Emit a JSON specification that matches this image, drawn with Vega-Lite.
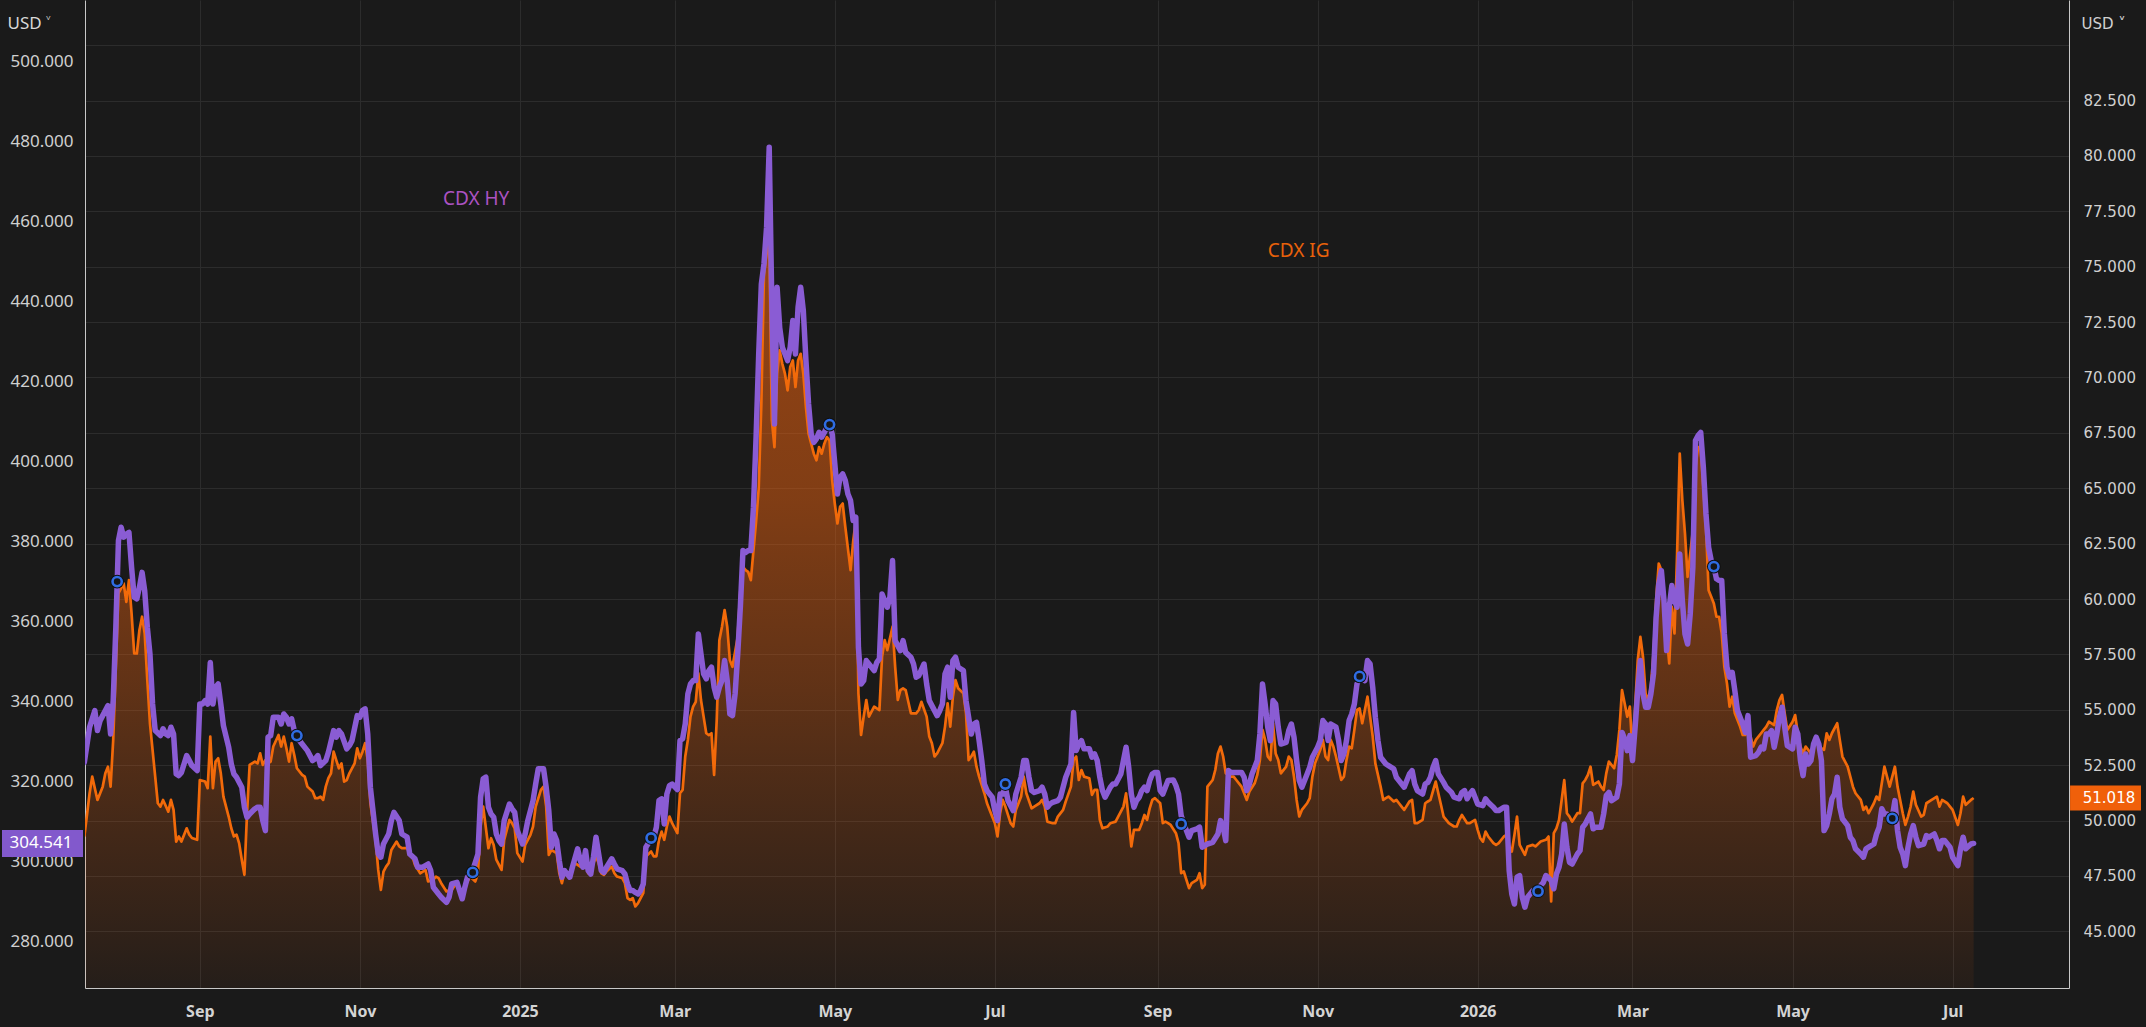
{
  "$schema": "https://vega.github.io/schema/vega-lite/v6.json",
  "description": "CDX HY (left scale) and CDX IG (right scale) spreads, dark theme",
  "width": 1984,
  "height": 988,
  "autosize": {"type": "none"},
  "padding": {"left": 85, "top": 0, "right": 77, "bottom": 39},
  "background": "#1a1a1a",
  "config": {
    "view": {"stroke": null},
    "axis": {"ticks": false, "domainColor": "#c8c8c8", "domainWidth": 1, "labelOverlap": false, "labelFlush": false}
  },
  "datasets": {
    "hy": [
      {"date":"2024/07/19","value":324.8},{"date":"2024/07/21","value":333.6},{"date":"2024/07/23","value":337.75},{"date":"2024/07/24","value":332.75},{"date":"2024/07/25","value":335.25},{"date":"2024/07/27","value":337.75},{"date":"2024/07/28","value":339},{"date":"2024/07/29","value":331.9},{"date":"2024/07/30","value":340.25},{"date":"2024/07/31","value":358.6},
      {"date":"2024/08/01","value":380.25},{"date":"2024/08/02","value":383.6},{"date":"2024/08/03","value":381.1},{"date":"2024/08/04","value":381.9},{"date":"2024/08/05","value":382.3},{"date":"2024/08/06","value":373.6},{"date":"2024/08/07","value":366.1},{"date":"2024/08/08","value":365.7},{"date":"2024/08/09","value":368.6},{"date":"2024/08/10","value":372.3},{"date":"2024/08/11","value":367.75},{"date":"2024/08/12","value":358.6},{"date":"2024/08/13","value":351.9},{"date":"2024/08/14","value":339.4},{"date":"2024/08/15","value":332.75},{"date":"2024/08/17","value":331.5},{"date":"2024/08/18","value":333.2},{"date":"2024/08/19","value":331.9},{"date":"2024/08/20","value":331.5},{"date":"2024/08/21","value":333.6},{"date":"2024/08/22","value":331.9},{"date":"2024/08/23","value":321.9},{"date":"2024/08/24","value":321.5},{"date":"2024/08/25","value":322.3},{"date":"2024/08/27","value":326.5},{"date":"2024/08/28","value":325.25},{"date":"2024/08/29","value":324},{"date":"2024/08/31","value":322.75},
      {"date":"2024/09/01","value":339.4},{"date":"2024/09/02","value":339.4},{"date":"2024/09/03","value":340.25},{"date":"2024/09/04","value":339.4},{"date":"2024/09/05","value":349.8},{"date":"2024/09/06","value":339.4},{"date":"2024/09/07","value":343.6},{"date":"2024/09/08","value":344.4},{"date":"2024/09/09","value":339.4},{"date":"2024/09/10","value":334},{"date":"2024/09/12","value":328.6},{"date":"2024/09/13","value":324.4},{"date":"2024/09/14","value":321.9},{"date":"2024/09/15","value":321.1},{"date":"2024/09/17","value":318.6},{"date":"2024/09/18","value":313.6},{"date":"2024/09/19","value":311.1},{"date":"2024/09/20","value":311.9},{"date":"2024/09/22","value":313.2},{"date":"2024/09/23","value":313.6},{"date":"2024/09/24","value":313.6},{"date":"2024/09/25","value":310.25},{"date":"2024/09/26","value":307.75},{"date":"2024/09/27","value":331.1},{"date":"2024/09/28","value":331.5},{"date":"2024/09/29","value":336.1},
      {"date":"2024/10/01","value":336.1},{"date":"2024/10/02","value":334.4},{"date":"2024/10/03","value":336.9},{"date":"2024/10/04","value":336.1},{"date":"2024/10/05","value":334.4},{"date":"2024/10/06","value":335.7},{"date":"2024/10/07","value":332.75},{"date":"2024/10/08","value":331.1},{"date":"2024/10/10","value":329.4},{"date":"2024/10/12","value":327.75},{"date":"2024/10/14","value":325.25},{"date":"2024/10/15","value":325.7},{"date":"2024/10/16","value":326.5},{"date":"2024/10/17","value":324},{"date":"2024/10/19","value":325.25},{"date":"2024/10/20","value":327.3},{"date":"2024/10/22","value":332.75},{"date":"2024/10/23","value":331.1},{"date":"2024/10/24","value":332.75},{"date":"2024/10/25","value":331.9},{"date":"2024/10/27","value":328.2},{"date":"2024/10/28","value":329},{"date":"2024/10/29","value":330.25},{"date":"2024/10/31","value":336.5},
      {"date":"2024/11/01","value":336.1},{"date":"2024/11/02","value":337.75},{"date":"2024/11/03","value":338.2},{"date":"2024/11/04","value":331.9},{"date":"2024/11/05","value":318.6},{"date":"2024/11/07","value":306.9},{"date":"2024/11/08","value":301.9},{"date":"2024/11/09","value":301.1},{"date":"2024/11/10","value":304.4},{"date":"2024/11/12","value":306.9},{"date":"2024/11/13","value":310.25},{"date":"2024/11/14","value":312.3},{"date":"2024/11/16","value":310.25},{"date":"2024/11/17","value":306.9},{"date":"2024/11/19","value":306.1},{"date":"2024/11/20","value":301.9},{"date":"2024/11/22","value":300.7},{"date":"2024/11/23","value":298.6},{"date":"2024/11/25","value":298.6},{"date":"2024/11/27","value":299.4},{"date":"2024/11/28","value":297.75},{"date":"2024/11/29","value":293.6},
      {"date":"2024/12/01","value":291.9},{"date":"2024/12/02","value":291.1},{"date":"2024/12/04","value":289.8},{"date":"2024/12/05","value":291.1},{"date":"2024/12/06","value":294.4},{"date":"2024/12/08","value":294.8},{"date":"2024/12/09","value":292.75},{"date":"2024/12/10","value":290.7},{"date":"2024/12/11","value":293.6},{"date":"2024/12/12","value":296.1},{"date":"2024/12/14","value":297.75},{"date":"2024/12/16","value":301.9},{"date":"2024/12/17","value":316.1},{"date":"2024/12/18","value":320.7},{"date":"2024/12/19","value":321.1},{"date":"2024/12/20","value":313.6},{"date":"2024/12/21","value":311.9},{"date":"2024/12/22","value":311.1},{"date":"2024/12/23","value":306.9},{"date":"2024/12/24","value":305.25},{"date":"2024/12/25","value":304.4},{"date":"2024/12/26","value":310.25},{"date":"2024/12/28","value":314.4},{"date":"2024/12/29","value":313.2},{"date":"2024/12/30","value":312.3},{"date":"2024/12/31","value":307.75},
      {"date":"2025/01/02","value":304.4},{"date":"2025/01/03","value":306.9},{"date":"2025/01/04","value":310.25},{"date":"2025/01/05","value":312.75},{"date":"2025/01/06","value":315.25},{"date":"2025/01/07","value":319.4},{"date":"2025/01/08","value":323.2},{"date":"2025/01/10","value":323.2},{"date":"2025/01/11","value":318.6},{"date":"2025/01/12","value":312.75},{"date":"2025/01/13","value":303.6},{"date":"2025/01/14","value":306.9},{"date":"2025/01/15","value":305.25},{"date":"2025/01/16","value":300.25},{"date":"2025/01/17","value":296.1},{"date":"2025/01/18","value":297.75},{"date":"2025/01/19","value":296.9},{"date":"2025/01/20","value":296.1},{"date":"2025/01/21","value":298.6},{"date":"2025/01/23","value":303.2},{"date":"2025/01/24","value":300.25},{"date":"2025/01/25","value":298.6},{"date":"2025/01/26","value":302.75},{"date":"2025/01/27","value":297.75},{"date":"2025/01/28","value":296.9},{"date":"2025/01/29","value":301.1},{"date":"2025/01/30","value":306.1},{"date":"2025/01/31","value":301.9},
      {"date":"2025/02/01","value":297.75},{"date":"2025/02/02","value":297.3},{"date":"2025/02/03","value":298.6},{"date":"2025/02/05","value":300.7},{"date":"2025/02/06","value":299.4},{"date":"2025/02/07","value":298.2},{"date":"2025/02/09","value":297.75},{"date":"2025/02/10","value":296.9},{"date":"2025/02/11","value":294.4},{"date":"2025/02/12","value":292.75},{"date":"2025/02/13","value":292.75},{"date":"2025/02/14","value":292.3},{"date":"2025/02/15","value":291.9},{"date":"2025/02/16","value":292.75},{"date":"2025/02/17","value":294.4},{"date":"2025/02/18","value":303.6},{"date":"2025/02/20","value":305.7},{"date":"2025/02/21","value":306.1},{"date":"2025/02/22","value":308.6},{"date":"2025/02/23","value":315.25},{"date":"2025/02/24","value":315.7},{"date":"2025/02/25","value":309.4},{"date":"2025/02/26","value":316.9},{"date":"2025/02/27","value":319},{"date":"2025/02/28","value":319.4},
      {"date":"2025/03/02","value":318},{"date":"2025/03/03","value":330.25},{"date":"2025/03/04","value":330.7},{"date":"2025/03/05","value":334.4},{"date":"2025/03/06","value":341.9},{"date":"2025/03/07","value":344.4},{"date":"2025/03/08","value":345.25},{"date":"2025/03/09","value":345.25},{"date":"2025/03/10","value":356.9},{"date":"2025/03/11","value":351.9},{"date":"2025/03/12","value":346.9},{"date":"2025/03/13","value":345.7},{"date":"2025/03/14","value":347.75},{"date":"2025/03/15","value":348.6},{"date":"2025/03/16","value":343.6},{"date":"2025/03/17","value":341.1},{"date":"2025/03/18","value":343.6},{"date":"2025/03/19","value":345.25},{"date":"2025/03/20","value":350.25},{"date":"2025/03/21","value":345.25},{"date":"2025/03/22","value":336.9},{"date":"2025/03/23","value":336.5},{"date":"2025/03/24","value":341.9},{"date":"2025/03/25","value":351.9},{"date":"2025/03/26","value":363.6},{"date":"2025/03/27","value":377.75},{"date":"2025/03/28","value":377.3},{"date":"2025/03/29","value":377.75},{"date":"2025/03/30","value":377.75},{"date":"2025/03/31","value":388.6},
      {"date":"2025/04/01","value":406.1},{"date":"2025/04/02","value":426.9},{"date":"2025/04/03","value":444.4},{"date":"2025/04/04","value":449.4},{"date":"2025/04/05","value":458.6},{"date":"2025/04/06","value":478.6},{"date":"2025/04/07","value":439.4},{"date":"2025/04/08","value":409.4},{"date":"2025/04/09","value":443.6},{"date":"2025/04/10","value":433.5},{"date":"2025/04/11","value":428.6},{"date":"2025/04/13","value":425.25},{"date":"2025/04/14","value":428.6},{"date":"2025/04/15","value":435.25},{"date":"2025/04/16","value":426.9},{"date":"2025/04/17","value":438.6},{"date":"2025/04/18","value":443.6},{"date":"2025/04/19","value":437.75},{"date":"2025/04/20","value":425.25},{"date":"2025/04/21","value":414.4},{"date":"2025/04/22","value":406.9},{"date":"2025/04/23","value":404.8},{"date":"2025/04/24","value":405.7},{"date":"2025/04/25","value":407.3},{"date":"2025/04/26","value":406.1},{"date":"2025/04/27","value":407.3},{"date":"2025/04/28","value":408.6},{"date":"2025/04/29","value":409.25},{"date":"2025/04/30","value":406.9},
      {"date":"2025/05/01","value":399.4},{"date":"2025/05/02","value":391.9},{"date":"2025/05/03","value":396.1},{"date":"2025/05/04","value":396.9},{"date":"2025/05/05","value":395.25},{"date":"2025/05/06","value":391.9},{"date":"2025/05/07","value":390.25},{"date":"2025/05/08","value":385.25},{"date":"2025/05/09","value":386.1},{"date":"2025/05/10","value":353.6},{"date":"2025/05/11","value":344.4},{"date":"2025/05/12","value":345.25},{"date":"2025/05/13","value":350.25},{"date":"2025/05/14","value":349.4},{"date":"2025/05/16","value":347.75},{"date":"2025/05/17","value":349.8},{"date":"2025/05/18","value":350.7},{"date":"2025/05/19","value":366.9},{"date":"2025/05/21","value":363.6},{"date":"2025/05/22","value":366.1},{"date":"2025/05/23","value":375.25},{"date":"2025/05/24","value":355.25},{"date":"2025/05/26","value":352.75},{"date":"2025/05/27","value":355.25},{"date":"2025/05/28","value":352.3},{"date":"2025/05/30","value":351.1},{"date":"2025/05/31","value":349.4},
      {"date":"2025/06/01","value":346.1},{"date":"2025/06/02","value":346.5},{"date":"2025/06/04","value":349.4},{"date":"2025/06/05","value":344.4},{"date":"2025/06/06","value":340.25},{"date":"2025/06/08","value":337.75},{"date":"2025/06/09","value":336.5},{"date":"2025/06/10","value":337.75},{"date":"2025/06/11","value":339.4},{"date":"2025/06/12","value":346.9},{"date":"2025/06/13","value":348.6},{"date":"2025/06/14","value":341.1},{"date":"2025/06/15","value":350.25},{"date":"2025/06/16","value":351.1},{"date":"2025/06/17","value":348.6},{"date":"2025/06/19","value":347.75},{"date":"2025/06/20","value":340.25},{"date":"2025/06/22","value":331.9},{"date":"2025/06/23","value":334.4},{"date":"2025/06/24","value":334.8},{"date":"2025/06/25","value":330.25},{"date":"2025/06/26","value":325.25},{"date":"2025/06/27","value":319.4},{"date":"2025/06/28","value":317.75},{"date":"2025/06/30","value":316.1},
      {"date":"2025/07/01","value":312.75},{"date":"2025/07/02","value":310.25},{"date":"2025/07/03","value":316.9},{"date":"2025/07/04","value":316.9},{"date":"2025/07/05","value":318.6},{"date":"2025/07/06","value":315.25},{"date":"2025/07/08","value":312.75},{"date":"2025/07/09","value":316.9},{"date":"2025/07/11","value":321.1},{"date":"2025/07/12","value":325.25},{"date":"2025/07/13","value":325.25},{"date":"2025/07/14","value":321.1},{"date":"2025/07/15","value":317.75},{"date":"2025/07/16","value":317.3},{"date":"2025/07/18","value":317.75},{"date":"2025/07/19","value":318.6},{"date":"2025/07/20","value":316.9},{"date":"2025/07/21","value":313.6},{"date":"2025/07/22","value":314.4},{"date":"2025/07/23","value":314.8},{"date":"2025/07/25","value":315.25},{"date":"2025/07/26","value":316.1},{"date":"2025/07/27","value":318.6},{"date":"2025/07/28","value":321.1},{"date":"2025/07/30","value":324.4},{"date":"2025/07/31","value":337.3},
      {"date":"2025/08/01","value":327.75},{"date":"2025/08/02","value":329.4},{"date":"2025/08/03","value":330.25},{"date":"2025/08/04","value":328.2},{"date":"2025/08/06","value":328.2},{"date":"2025/08/07","value":326.1},{"date":"2025/08/08","value":326.9},{"date":"2025/08/09","value":325.25},{"date":"2025/08/10","value":321.1},{"date":"2025/08/11","value":317.75},{"date":"2025/08/12","value":316.1},{"date":"2025/08/14","value":318.6},{"date":"2025/08/15","value":319.4},{"date":"2025/08/16","value":319.4},{"date":"2025/08/18","value":321.9},{"date":"2025/08/19","value":325.25},{"date":"2025/08/20","value":328.6},{"date":"2025/08/21","value":323.6},{"date":"2025/08/22","value":316.9},{"date":"2025/08/23","value":313.6},{"date":"2025/08/24","value":315.25},{"date":"2025/08/25","value":316.1},{"date":"2025/08/26","value":317.75},{"date":"2025/08/27","value":318.6},{"date":"2025/08/28","value":317.75},{"date":"2025/08/29","value":320.25},{"date":"2025/08/30","value":321.9},{"date":"2025/08/31","value":322.3},
      {"date":"2025/09/01","value":322.3},{"date":"2025/09/02","value":317.75},{"date":"2025/09/03","value":316.9},{"date":"2025/09/04","value":318.6},{"date":"2025/09/05","value":320.25},{"date":"2025/09/07","value":320.4},{"date":"2025/09/08","value":319},{"date":"2025/09/09","value":316.9},{"date":"2025/09/10","value":311.5},{"date":"2025/09/11","value":309.4},{"date":"2025/09/12","value":307.75},{"date":"2025/09/13","value":306.1},{"date":"2025/09/14","value":307.75},{"date":"2025/09/16","value":308.2},{"date":"2025/09/17","value":308.6},{"date":"2025/09/18","value":303.6},{"date":"2025/09/19","value":304},{"date":"2025/09/20","value":304.4},{"date":"2025/09/22","value":304.8},{"date":"2025/09/24","value":306.9},{"date":"2025/09/25","value":310.25},{"date":"2025/09/26","value":308.6},{"date":"2025/09/27","value":305.25},{"date":"2025/09/28","value":322.75},{"date":"2025/09/29","value":322.3},
      {"date":"2025/10/01","value":322.3},{"date":"2025/10/03","value":322.3},{"date":"2025/10/04","value":321.1},{"date":"2025/10/05","value":317.75},{"date":"2025/10/06","value":319.4},{"date":"2025/10/07","value":321.9},{"date":"2025/10/09","value":325.25},{"date":"2025/10/10","value":331.9},{"date":"2025/10/11","value":344.4},{"date":"2025/10/12","value":339.4},{"date":"2025/10/13","value":333.6},{"date":"2025/10/14","value":330.25},{"date":"2025/10/15","value":340.25},{"date":"2025/10/16","value":339.4},{"date":"2025/10/17","value":333.6},{"date":"2025/10/18","value":329.4},{"date":"2025/10/20","value":329.8},{"date":"2025/10/21","value":332.75},{"date":"2025/10/22","value":334.4},{"date":"2025/10/23","value":331.1},{"date":"2025/10/24","value":325.25},{"date":"2025/10/25","value":320.25},{"date":"2025/10/26","value":318.6},{"date":"2025/10/28","value":321.9},{"date":"2025/10/29","value":323.6},{"date":"2025/10/30","value":326.1},
      {"date":"2025/11/01","value":328.6},{"date":"2025/11/02","value":330.25},{"date":"2025/11/03","value":335.25},{"date":"2025/11/04","value":334.4},{"date":"2025/11/05","value":330.25},{"date":"2025/11/06","value":334.4},{"date":"2025/11/07","value":334},{"date":"2025/11/08","value":333.6},{"date":"2025/11/09","value":330.25},{"date":"2025/11/10","value":325.25},{"date":"2025/11/11","value":326.9},{"date":"2025/11/12","value":330.25},{"date":"2025/11/13","value":335.25},{"date":"2025/11/14","value":336.9},{"date":"2025/11/15","value":339.4},{"date":"2025/11/16","value":344.4},{"date":"2025/11/17","value":346.1},{"date":"2025/11/19","value":345.25},{"date":"2025/11/20","value":350.25},{"date":"2025/11/21","value":349.4},{"date":"2025/11/22","value":343.6},{"date":"2025/11/23","value":336.1},{"date":"2025/11/24","value":330.25},{"date":"2025/11/25","value":326.1},{"date":"2025/11/27","value":324.4},{"date":"2025/11/28","value":324},{"date":"2025/11/30","value":323.2},
      {"date":"2025/12/01","value":321.1},{"date":"2025/12/02","value":320.25},{"date":"2025/12/04","value":318.6},{"date":"2025/12/05","value":320.25},{"date":"2025/12/06","value":321.9},{"date":"2025/12/07","value":322.75},{"date":"2025/12/08","value":319.4},{"date":"2025/12/09","value":317.75},{"date":"2025/12/11","value":316.9},{"date":"2025/12/12","value":319.4},{"date":"2025/12/13","value":319.8},{"date":"2025/12/14","value":321.1},{"date":"2025/12/15","value":323.6},{"date":"2025/12/16","value":325.25},{"date":"2025/12/17","value":321.9},{"date":"2025/12/19","value":319.8},{"date":"2025/12/20","value":318.6},{"date":"2025/12/22","value":317.3},{"date":"2025/12/23","value":316.1},{"date":"2025/12/25","value":315.7},{"date":"2025/12/26","value":317.3},{"date":"2025/12/27","value":317.75},{"date":"2025/12/28","value":315.7},{"date":"2025/12/29","value":316.9},{"date":"2025/12/30","value":317.75},{"date":"2025/12/31","value":316.1},
      {"date":"2026/01/01","value":314.4},{"date":"2026/01/03","value":314},{"date":"2026/01/04","value":315.7},{"date":"2026/01/05","value":314.8},{"date":"2026/01/07","value":313.6},{"date":"2026/01/08","value":312.75},{"date":"2026/01/09","value":312.75},{"date":"2026/01/11","value":313.6},{"date":"2026/01/12","value":313.6},{"date":"2026/01/13","value":297.75},{"date":"2026/01/14","value":291.9},{"date":"2026/01/15","value":289.4},{"date":"2026/01/16","value":296.1},{"date":"2026/01/17","value":296.5},{"date":"2026/01/18","value":291.1},{"date":"2026/01/19","value":288.6},{"date":"2026/01/20","value":291.1},{"date":"2026/01/22","value":292.75},{"date":"2026/01/23","value":292.75},{"date":"2026/01/24","value":293.2},{"date":"2026/01/26","value":294.8},{"date":"2026/01/27","value":296.5},{"date":"2026/01/29","value":295.25},{"date":"2026/01/30","value":293.2},{"date":"2026/01/31","value":296.9},
      {"date":"2026/02/01","value":298.6},{"date":"2026/02/02","value":301.9},{"date":"2026/02/03","value":309.4},{"date":"2026/02/04","value":303.6},{"date":"2026/02/05","value":299.8},{"date":"2026/02/06","value":299.4},{"date":"2026/02/08","value":301.9},{"date":"2026/02/09","value":302.75},{"date":"2026/02/10","value":308.6},{"date":"2026/02/11","value":309.4},{"date":"2026/02/12","value":310.7},{"date":"2026/02/13","value":311.9},{"date":"2026/02/14","value":308.2},{"date":"2026/02/15","value":308.6},{"date":"2026/02/17","value":308.6},{"date":"2026/02/18","value":311.9},{"date":"2026/02/19","value":316.5},{"date":"2026/02/20","value":317.3},{"date":"2026/02/21","value":315.25},{"date":"2026/02/23","value":316.1},{"date":"2026/02/24","value":319.4},{"date":"2026/02/25","value":332.3},{"date":"2026/02/26","value":330.7},{"date":"2026/02/27","value":327.75},{"date":"2026/02/28","value":331.5},
      {"date":"2026/03/01","value":325.25},{"date":"2026/03/02","value":333.6},{"date":"2026/03/03","value":342.75},{"date":"2026/03/04","value":350.25},{"date":"2026/03/05","value":341.9},{"date":"2026/03/06","value":338.6},{"date":"2026/03/07","value":338.6},{"date":"2026/03/08","value":341.9},{"date":"2026/03/09","value":346.9},{"date":"2026/03/10","value":361.1},{"date":"2026/03/11","value":369.4},{"date":"2026/03/12","value":372.75},{"date":"2026/03/13","value":365.25},{"date":"2026/03/14","value":352.75},{"date":"2026/03/15","value":363.6},{"date":"2026/03/16","value":369},{"date":"2026/03/17","value":365.25},{"date":"2026/03/18","value":363.6},{"date":"2026/03/19","value":376.9},{"date":"2026/03/20","value":365.25},{"date":"2026/03/21","value":356.9},{"date":"2026/03/22","value":354.4},{"date":"2026/03/23","value":361.9},{"date":"2026/03/24","value":373.6},{"date":"2026/03/25","value":405.25},{"date":"2026/03/26","value":406.5},{"date":"2026/03/27","value":407.3},{"date":"2026/03/28","value":398.6},{"date":"2026/03/29","value":386.9},{"date":"2026/03/30","value":378.6},{"date":"2026/03/31","value":375.25},
      {"date":"2026/04/01","value":373.75},{"date":"2026/04/02","value":370.7},{"date":"2026/04/03","value":370.25},{"date":"2026/04/04","value":370.25},{"date":"2026/04/05","value":356.9},{"date":"2026/04/06","value":348.6},{"date":"2026/04/07","value":346.1},{"date":"2026/04/08","value":347.3},{"date":"2026/04/09","value":342.75},{"date":"2026/04/10","value":337.75},{"date":"2026/04/12","value":334.4},{"date":"2026/04/13","value":332.3},{"date":"2026/04/14","value":336.5},{"date":"2026/04/15","value":326.1},{"date":"2026/04/17","value":326.5},{"date":"2026/04/18","value":327.3},{"date":"2026/04/19","value":328.6},{"date":"2026/04/20","value":328.2},{"date":"2026/04/21","value":331.9},{"date":"2026/04/22","value":331.9},{"date":"2026/04/23","value":332.75},{"date":"2026/04/24","value":328.6},{"date":"2026/04/25","value":331.9},{"date":"2026/04/26","value":336.1},{"date":"2026/04/27","value":338.6},{"date":"2026/04/28","value":333.6},{"date":"2026/04/29","value":329},
      {"date":"2026/05/01","value":328.2},{"date":"2026/05/02","value":333.6},{"date":"2026/05/03","value":331.9},{"date":"2026/05/04","value":325.25},{"date":"2026/05/05","value":321.5},{"date":"2026/05/06","value":326.9},{"date":"2026/05/07","value":324.4},{"date":"2026/05/08","value":325.25},{"date":"2026/05/09","value":329.4},{"date":"2026/05/10","value":331.1},{"date":"2026/05/11","value":329.4},{"date":"2026/05/12","value":325.25},{"date":"2026/05/13","value":307.75},{"date":"2026/05/14","value":309},{"date":"2026/05/15","value":311.9},{"date":"2026/05/16","value":315.7},{"date":"2026/05/17","value":316.9},{"date":"2026/05/18","value":321.1},{"date":"2026/05/19","value":313.6},{"date":"2026/05/20","value":310.7},{"date":"2026/05/22","value":309},{"date":"2026/05/23","value":306.1},{"date":"2026/05/24","value":305.25},{"date":"2026/05/25","value":303.2},{"date":"2026/05/27","value":301.9},{"date":"2026/05/28","value":301.1},{"date":"2026/05/29","value":303.2},{"date":"2026/05/30","value":303.6},
      {"date":"2026/06/01","value":304.4},{"date":"2026/06/02","value":306.9},{"date":"2026/06/03","value":308.6},{"date":"2026/06/04","value":313.2},{"date":"2026/06/05","value":311.9},{"date":"2026/06/06","value":311.9},{"date":"2026/06/08","value":311.1},{"date":"2026/06/09","value":315.25},{"date":"2026/06/10","value":307.75},{"date":"2026/06/11","value":303.6},{"date":"2026/06/12","value":301.9},{"date":"2026/06/13","value":299},{"date":"2026/06/14","value":303.6},{"date":"2026/06/15","value":306.9},{"date":"2026/06/16","value":309},{"date":"2026/06/17","value":306.1},{"date":"2026/06/18","value":304},{"date":"2026/06/20","value":304.4},{"date":"2026/06/21","value":306.5},{"date":"2026/06/22","value":306.1},{"date":"2026/06/24","value":306.9},{"date":"2026/06/25","value":305.25},{"date":"2026/06/26","value":303.2},{"date":"2026/06/27","value":305.25},{"date":"2026/06/28","value":305.25},{"date":"2026/06/30","value":303.6},
      {"date":"2026/07/01","value":301.1},{"date":"2026/07/03","value":299},{"date":"2026/07/04","value":303.2},{"date":"2026/07/05","value":306.1},{"date":"2026/07/06","value":303.2},{"date":"2026/07/08","value":304.4},{"date":"2026/07/09","value":304.541}
    ],
    "ig": [
      {"date":"2024/07/19","value":49.28},{"date":"2024/07/21","value":51.23},{"date":"2024/07/22","value":51.98},{"date":"2024/07/24","value":50.93},{"date":"2024/07/26","value":51.53},{"date":"2024/07/27","value":52.13},{"date":"2024/07/28","value":52.43},{"date":"2024/07/29","value":51.53},{"date":"2024/07/30","value":53.64},{"date":"2024/07/31","value":56.94},
      {"date":"2024/08/01","value":60.25},{"date":"2024/08/03","value":60.7},{"date":"2024/08/04","value":59.87},{"date":"2024/08/05","value":60.85},{"date":"2024/08/06","value":59.35},{"date":"2024/08/07","value":57.54},{"date":"2024/08/08","value":57.54},{"date":"2024/08/09","value":58.6},{"date":"2024/08/10","value":59.2},{"date":"2024/08/11","value":58.45},{"date":"2024/08/12","value":56.34},{"date":"2024/08/13","value":54.39},{"date":"2024/08/15","value":51.98},{"date":"2024/08/16","value":50.78},{"date":"2024/08/17","value":50.63},{"date":"2024/08/18","value":50.93},{"date":"2024/08/20","value":50.4},{"date":"2024/08/21","value":50.93},{"date":"2024/08/22","value":50.48},{"date":"2024/08/23","value":49.05},{"date":"2024/08/24","value":49.28},{"date":"2024/08/25","value":49.05},{"date":"2024/08/27","value":49.65},{"date":"2024/08/28","value":49.36},{"date":"2024/08/29","value":49.21},{"date":"2024/08/31","value":49.13},
      {"date":"2024/09/01","value":51.83},{"date":"2024/09/03","value":51.76},{"date":"2024/09/04","value":51.46},{"date":"2024/09/05","value":53.79},{"date":"2024/09/06","value":51.46},{"date":"2024/09/07","value":52.66},{"date":"2024/09/08","value":52.81},{"date":"2024/09/09","value":52.13},{"date":"2024/09/10","value":51.08},{"date":"2024/09/12","value":50.18},{"date":"2024/09/13","value":49.65},{"date":"2024/09/14","value":49.28},{"date":"2024/09/15","value":49.36},{"date":"2024/09/16","value":48.97},{"date":"2024/09/17","value":48.23},{"date":"2024/09/18","value":47.55},{"date":"2024/09/19","value":50.33},{"date":"2024/09/20","value":52.51},{"date":"2024/09/22","value":52.66},{"date":"2024/09/23","value":52.58},{"date":"2024/09/24","value":53.03},{"date":"2024/09/25","value":52.51},{"date":"2024/09/26","value":52.73},{"date":"2024/09/27","value":52.58},{"date":"2024/09/28","value":52.66},{"date":"2024/09/29","value":53.34},
      {"date":"2024/10/01","value":53.86},{"date":"2024/10/02","value":53.34},{"date":"2024/10/03","value":53.79},{"date":"2024/10/04","value":53.26},{"date":"2024/10/05","value":52.66},{"date":"2024/10/06","value":53.49},{"date":"2024/10/07","value":52.96},{"date":"2024/10/08","value":52.36},{"date":"2024/10/10","value":52.06},{"date":"2024/10/11","value":51.98},{"date":"2024/10/12","value":51.53},{"date":"2024/10/14","value":51.31},{"date":"2024/10/15","value":51.01},{"date":"2024/10/16","value":51.01},{"date":"2024/10/17","value":51.08},{"date":"2024/10/18","value":50.93},{"date":"2024/10/19","value":51.53},{"date":"2024/10/20","value":51.91},{"date":"2024/10/21","value":52.13},{"date":"2024/10/22","value":53.11},{"date":"2024/10/23","value":52.73},{"date":"2024/10/24","value":52.36},{"date":"2024/10/25","value":52.58},{"date":"2024/10/26","value":51.76},{"date":"2024/10/27","value":51.83},{"date":"2024/10/28","value":52.13},{"date":"2024/10/30","value":52.58},{"date":"2024/10/31","value":53.26},
      {"date":"2024/11/01","value":52.81},{"date":"2024/11/02","value":53.11},{"date":"2024/11/03","value":53.49},{"date":"2024/11/04","value":52.73},{"date":"2024/11/05","value":50.78},{"date":"2024/11/07","value":49.13},{"date":"2024/11/08","value":47.77},{"date":"2024/11/09","value":46.87},{"date":"2024/11/10","value":47.69},{"date":"2024/11/11","value":47.92},{"date":"2024/11/12","value":48.08},{"date":"2024/11/13","value":48.67},{"date":"2024/11/15","value":49.05},{"date":"2024/11/16","value":48.83},{"date":"2024/11/17","value":48.75},{"date":"2024/11/19","value":48.75},{"date":"2024/11/20","value":48.53},{"date":"2024/11/21","value":48.38},{"date":"2024/11/22","value":48},{"date":"2024/11/24","value":47.62},{"date":"2024/11/25","value":47.69},{"date":"2024/11/26","value":47.78},{"date":"2024/11/27","value":47.25},{"date":"2024/11/29","value":47.33},{"date":"2024/11/30","value":47.47},
      {"date":"2024/12/01","value":47.4},{"date":"2024/12/02","value":47.17},{"date":"2024/12/04","value":46.8},{"date":"2024/12/06","value":46.87},{"date":"2024/12/08","value":47.2},{"date":"2024/12/10","value":46.5},{"date":"2024/12/11","value":47},{"date":"2024/12/13","value":47.47},{"date":"2024/12/15","value":47.25},{"date":"2024/12/16","value":47.62},{"date":"2024/12/17","value":49.73},{"date":"2024/12/18","value":50.63},{"date":"2024/12/20","value":48.75},{"date":"2024/12/21","value":49.2},{"date":"2024/12/22","value":48.9},{"date":"2024/12/23","value":48.23},{"date":"2024/12/25","value":47.77},{"date":"2024/12/26","value":49.13},{"date":"2024/12/28","value":50.03},{"date":"2024/12/29","value":49.88},{"date":"2024/12/30","value":49.65},{"date":"2024/12/31","value":48.53},
      {"date":"2025/01/02","value":48.15},{"date":"2025/01/03","value":48.9},{"date":"2025/01/05","value":49.35},{"date":"2025/01/06","value":49.73},{"date":"2025/01/07","value":50.63},{"date":"2025/01/09","value":51.38},{"date":"2025/01/10","value":51.53},{"date":"2025/01/11","value":50.63},{"date":"2025/01/12","value":48.45},{"date":"2025/01/13","value":48.67},{"date":"2025/01/15","value":48.53},{"date":"2025/01/16","value":47.62},{"date":"2025/01/17","value":47.17},{"date":"2025/01/18","value":47.7},{"date":"2025/01/19","value":47.55},{"date":"2025/01/20","value":47.55},{"date":"2025/01/22","value":48.08},{"date":"2025/01/24","value":47.92},{"date":"2025/01/25","value":47.92},{"date":"2025/01/26","value":48.08},{"date":"2025/01/27","value":47.62},{"date":"2025/01/28","value":47.77},{"date":"2025/01/30","value":48.38},{"date":"2025/01/31","value":48.08},
      {"date":"2025/02/01","value":47.62},{"date":"2025/02/02","value":47.55},{"date":"2025/02/03","value":47.7},{"date":"2025/02/05","value":47.92},{"date":"2025/02/06","value":47.62},{"date":"2025/02/07","value":47.47},{"date":"2025/02/09","value":47.4},{"date":"2025/02/10","value":47.17},{"date":"2025/02/11","value":46.5},{"date":"2025/02/12","value":46.42},{"date":"2025/02/13","value":46.5},{"date":"2025/02/14","value":46.12},{"date":"2025/02/15","value":46.27},{"date":"2025/02/16","value":46.5},{"date":"2025/02/17","value":46.72},{"date":"2025/02/18","value":48.38},{"date":"2025/02/20","value":48.6},{"date":"2025/02/21","value":48.38},{"date":"2025/02/22","value":48.38},{"date":"2025/02/23","value":49.13},{"date":"2025/02/24","value":49.5},{"date":"2025/02/25","value":49.13},{"date":"2025/02/26","value":49.73},{"date":"2025/02/27","value":50.18},{"date":"2025/02/28","value":49.88},
      {"date":"2025/03/02","value":49.43},{"date":"2025/03/03","value":51.23},{"date":"2025/03/04","value":51.38},{"date":"2025/03/05","value":52.89},{"date":"2025/03/06","value":53.64},{"date":"2025/03/07","value":54.69},{"date":"2025/03/08","value":55.14},{"date":"2025/03/09","value":55.36},{"date":"2025/03/10","value":56.64},{"date":"2025/03/11","value":55.44},{"date":"2025/03/12","value":54.69},{"date":"2025/03/13","value":53.94},{"date":"2025/03/14","value":53.86},{"date":"2025/03/15","value":53.94},{"date":"2025/03/16","value":52.06},{"date":"2025/03/17","value":54.54},{"date":"2025/03/18","value":58.14},{"date":"2025/03/19","value":58.75},{"date":"2025/03/20","value":59.5},{"date":"2025/03/21","value":58.75},{"date":"2025/03/22","value":57.24},{"date":"2025/03/23","value":56.94},{"date":"2025/03/25","value":58.29},{"date":"2025/03/26","value":60.4},{"date":"2025/03/27","value":61.45},{"date":"2025/03/28","value":61.3},{"date":"2025/03/29","value":61.22},{"date":"2025/03/30","value":60.85},{"date":"2025/03/31","value":62.2},
      {"date":"2025/04/01","value":63.5},{"date":"2025/04/02","value":65},{"date":"2025/04/03","value":68.82},{"date":"2025/04/04","value":74.68},{"date":"2025/04/05","value":75.58},{"date":"2025/04/06","value":76.5},{"date":"2025/04/07","value":68.07},{"date":"2025/04/08","value":66.86},{"date":"2025/04/09","value":70.17},{"date":"2025/04/10","value":71.22},{"date":"2025/04/11","value":70.62},{"date":"2025/04/12","value":70.17},{"date":"2025/04/13","value":69.42},{"date":"2025/04/14","value":70.47},{"date":"2025/04/15","value":70.77},{"date":"2025/04/16","value":69.57},{"date":"2025/04/17","value":70.77},{"date":"2025/04/18","value":71.07},{"date":"2025/04/19","value":70.17},{"date":"2025/04/20","value":68.66},{"date":"2025/04/21","value":67.46},{"date":"2025/04/23","value":66.56},{"date":"2025/04/24","value":66.26},{"date":"2025/04/25","value":66.86},{"date":"2025/04/26","value":66.56},{"date":"2025/04/27","value":67.01},{"date":"2025/04/28","value":67.31},{"date":"2025/04/29","value":67.16},{"date":"2025/04/30","value":65.36},
      {"date":"2025/05/01","value":64.3},{"date":"2025/05/02","value":63.41},{"date":"2025/05/03","value":64.16},{"date":"2025/05/04","value":64.31},{"date":"2025/05/05","value":63.26},{"date":"2025/05/07","value":61.3},{"date":"2025/05/08","value":62.6},{"date":"2025/05/09","value":63.56},{"date":"2025/05/10","value":55.74},{"date":"2025/05/11","value":53.86},{"date":"2025/05/12","value":54.69},{"date":"2025/05/13","value":55.44},{"date":"2025/05/14","value":54.69},{"date":"2025/05/16","value":55.14},{"date":"2025/05/17","value":55.06},{"date":"2025/05/18","value":54.99},{"date":"2025/05/19","value":57.39},{"date":"2025/05/20","value":58.14},{"date":"2025/05/21","value":57.69},{"date":"2025/05/23","value":58.75},{"date":"2025/05/24","value":56.94},{"date":"2025/05/25","value":55.44},{"date":"2025/05/26","value":55.89},{"date":"2025/05/27","value":55.97},{"date":"2025/05/28","value":55.89},{"date":"2025/05/30","value":54.84},
      {"date":"2025/06/01","value":54.84},{"date":"2025/06/02","value":54.99},{"date":"2025/06/03","value":55.36},{"date":"2025/06/05","value":54.69},{"date":"2025/06/06","value":53.79},{"date":"2025/06/07","value":53.49},{"date":"2025/06/08","value":52.89},{"date":"2025/06/09","value":53.03},{"date":"2025/06/11","value":53.49},{"date":"2025/06/12","value":54.24},{"date":"2025/06/13","value":55.29},{"date":"2025/06/14","value":54.24},{"date":"2025/06/15","value":55.59},{"date":"2025/06/16","value":56.34},{"date":"2025/06/17","value":55.97},{"date":"2025/06/19","value":55.74},{"date":"2025/06/20","value":54.84},{"date":"2025/06/21","value":52.73},{"date":"2025/06/22","value":52.89},{"date":"2025/06/23","value":53.11},{"date":"2025/06/24","value":52.43},{"date":"2025/06/25","value":51.98},{"date":"2025/06/27","value":51.23},{"date":"2025/06/28","value":50.78},{"date":"2025/06/29","value":50.48},
      {"date":"2025/07/01","value":49.88},{"date":"2025/07/02","value":49.28},{"date":"2025/07/03","value":50.33},{"date":"2025/07/04","value":50.93},{"date":"2025/07/05","value":50.63},{"date":"2025/07/07","value":49.88},{"date":"2025/07/08","value":49.73},{"date":"2025/07/09","value":50.48},{"date":"2025/07/11","value":51.08},{"date":"2025/07/12","value":51.98},{"date":"2025/07/13","value":51.23},{"date":"2025/07/15","value":50.55},{"date":"2025/07/16","value":50.63},{"date":"2025/07/18","value":50.78},{"date":"2025/07/19","value":50.93},{"date":"2025/07/20","value":50.63},{"date":"2025/07/21","value":49.95},{"date":"2025/07/23","value":49.88},{"date":"2025/07/24","value":49.88},{"date":"2025/07/25","value":50.18},{"date":"2025/07/27","value":50.48},{"date":"2025/07/28","value":50.86},{"date":"2025/07/30","value":51.53},{"date":"2025/07/31","value":52.73},
      {"date":"2025/08/01","value":52.89},{"date":"2025/08/02","value":51.83},{"date":"2025/08/03","value":52.28},{"date":"2025/08/04","value":51.98},{"date":"2025/08/06","value":51.91},{"date":"2025/08/07","value":51.16},{"date":"2025/08/08","value":51.38},{"date":"2025/08/09","value":51.38},{"date":"2025/08/10","value":50.03},{"date":"2025/08/11","value":49.65},{"date":"2025/08/13","value":49.73},{"date":"2025/08/14","value":49.88},{"date":"2025/08/16","value":49.95},{"date":"2025/08/17","value":50.18},{"date":"2025/08/19","value":50.63},{"date":"2025/08/20","value":51.23},{"date":"2025/08/21","value":50.03},{"date":"2025/08/22","value":48.83},{"date":"2025/08/23","value":49.58},{"date":"2025/08/25","value":49.58},{"date":"2025/08/26","value":49.88},{"date":"2025/08/27","value":50.25},{"date":"2025/08/28","value":50.03},{"date":"2025/08/29","value":50.55},{"date":"2025/08/30","value":50.93},{"date":"2025/08/31","value":51.01},
      {"date":"2025/09/02","value":50.78},{"date":"2025/09/03","value":49.88},{"date":"2025/09/04","value":49.95},{"date":"2025/09/05","value":49.88},{"date":"2025/09/06","value":49.8},{"date":"2025/09/08","value":49.43},{"date":"2025/09/09","value":48.98},{"date":"2025/09/10","value":47.62},{"date":"2025/09/11","value":47.7},{"date":"2025/09/13","value":46.95},{"date":"2025/09/14","value":47.17},{"date":"2025/09/16","value":47.32},{"date":"2025/09/17","value":47.62},{"date":"2025/09/18","value":46.95},{"date":"2025/09/19","value":47.1},{"date":"2025/09/20","value":51.53},{"date":"2025/09/22","value":51.83},{"date":"2025/09/23","value":52.28},{"date":"2025/09/24","value":53.03},{"date":"2025/09/25","value":53.34},{"date":"2025/09/26","value":52.89},{"date":"2025/09/27","value":52.13},{"date":"2025/09/29","value":51.98},{"date":"2025/09/30","value":51.98},
      {"date":"2025/10/01","value":51.83},{"date":"2025/10/03","value":51.53},{"date":"2025/10/04","value":51.23},{"date":"2025/10/05","value":50.93},{"date":"2025/10/06","value":51.31},{"date":"2025/10/08","value":51.68},{"date":"2025/10/09","value":52.06},{"date":"2025/10/10","value":52.73},{"date":"2025/10/11","value":54.09},{"date":"2025/10/12","value":53.64},{"date":"2025/10/13","value":52.89},{"date":"2025/10/14","value":52.73},{"date":"2025/10/15","value":54.39},{"date":"2025/10/16","value":53.03},{"date":"2025/10/17","value":52.73},{"date":"2025/10/18","value":52.13},{"date":"2025/10/20","value":52.43},{"date":"2025/10/21","value":52.89},{"date":"2025/10/22","value":52.73},{"date":"2025/10/23","value":51.98},{"date":"2025/10/24","value":50.93},{"date":"2025/10/25","value":50.18},{"date":"2025/10/26","value":50.48},{"date":"2025/10/28","value":50.78},{"date":"2025/10/29","value":51.01},{"date":"2025/10/30","value":51.98},{"date":"2025/10/31","value":52.58},
      {"date":"2025/11/02","value":53.19},{"date":"2025/11/03","value":53.64},{"date":"2025/11/04","value":52.89},{"date":"2025/11/05","value":52.73},{"date":"2025/11/06","value":53.64},{"date":"2025/11/07","value":53.34},{"date":"2025/11/08","value":52.89},{"date":"2025/11/10","value":51.83},{"date":"2025/11/11","value":51.98},{"date":"2025/11/12","value":52.73},{"date":"2025/11/13","value":53.34},{"date":"2025/11/14","value":53.26},{"date":"2025/11/15","value":54.09},{"date":"2025/11/16","value":54.99},{"date":"2025/11/17","value":55.06},{"date":"2025/11/18","value":54.39},{"date":"2025/11/20","value":55.59},{"date":"2025/11/21","value":54.69},{"date":"2025/11/22","value":53.79},{"date":"2025/11/23","value":52.58},{"date":"2025/11/25","value":51.53},{"date":"2025/11/26","value":50.93},{"date":"2025/11/27","value":51.01},{"date":"2025/11/28","value":51.08},{"date":"2025/11/30","value":50.86},
      {"date":"2025/12/01","value":50.93},{"date":"2025/12/02","value":50.78},{"date":"2025/12/03","value":50.63},{"date":"2025/12/04","value":50.48},{"date":"2025/12/06","value":50.86},{"date":"2025/12/07","value":50.93},{"date":"2025/12/08","value":49.88},{"date":"2025/12/09","value":49.88},{"date":"2025/12/11","value":50.03},{"date":"2025/12/12","value":50.78},{"date":"2025/12/13","value":50.86},{"date":"2025/12/14","value":50.93},{"date":"2025/12/16","value":51.76},{"date":"2025/12/17","value":51.23},{"date":"2025/12/18","value":50.71},{"date":"2025/12/19","value":50.18},{"date":"2025/12/21","value":49.88},{"date":"2025/12/23","value":49.73},{"date":"2025/12/24","value":49.73},{"date":"2025/12/25","value":50.03},{"date":"2025/12/26","value":50.25},{"date":"2025/12/28","value":49.88},{"date":"2025/12/29","value":49.88},{"date":"2025/12/31","value":50.03},
      {"date":"2026/01/01","value":49.58},{"date":"2026/01/02","value":49.2},{"date":"2026/01/03","value":49.05},{"date":"2026/01/04","value":49.5},{"date":"2026/01/05","value":49.28},{"date":"2026/01/07","value":48.98},{"date":"2026/01/08","value":48.9},{"date":"2026/01/09","value":48.98},{"date":"2026/01/11","value":49.28},{"date":"2026/01/12","value":49.35},{"date":"2026/01/13","value":48.83},{"date":"2026/01/14","value":48.6},{"date":"2026/01/15","value":49.35},{"date":"2026/01/16","value":50.18},{"date":"2026/01/17","value":48.9},{"date":"2026/01/19","value":48.45},{"date":"2026/01/20","value":48.83},{"date":"2026/01/22","value":48.9},{"date":"2026/01/23","value":48.83},{"date":"2026/01/25","value":49.05},{"date":"2026/01/27","value":49.13},{"date":"2026/01/28","value":49.28},{"date":"2026/01/29","value":46.35},{"date":"2026/01/30","value":49.43},{"date":"2026/01/31","value":49.65},
      {"date":"2026/02/01","value":50.03},{"date":"2026/02/03","value":51.83},{"date":"2026/02/04","value":50.33},{"date":"2026/02/05","value":50.18},{"date":"2026/02/06","value":49.95},{"date":"2026/02/08","value":50.33},{"date":"2026/02/09","value":50.33},{"date":"2026/02/10","value":51.68},{"date":"2026/02/11","value":51.83},{"date":"2026/02/12","value":52.06},{"date":"2026/02/13","value":52.43},{"date":"2026/02/14","value":51.61},{"date":"2026/02/16","value":51.76},{"date":"2026/02/17","value":51.53},{"date":"2026/02/18","value":51.38},{"date":"2026/02/19","value":52.13},{"date":"2026/02/20","value":52.66},{"date":"2026/02/22","value":52.36},{"date":"2026/02/23","value":52.96},{"date":"2026/02/24","value":54.09},{"date":"2026/02/25","value":55.89},{"date":"2026/02/26","value":55.29},{"date":"2026/02/27","value":54.69},{"date":"2026/02/28","value":55.14},
      {"date":"2026/03/01","value":53.03},{"date":"2026/03/02","value":55.14},{"date":"2026/03/03","value":57.24},{"date":"2026/03/04","value":58.29},{"date":"2026/03/05","value":57.39},{"date":"2026/03/06","value":55.74},{"date":"2026/03/07","value":55.44},{"date":"2026/03/08","value":56.04},{"date":"2026/03/09","value":57.54},{"date":"2026/03/10","value":59.95},{"date":"2026/03/11","value":61.6},{"date":"2026/03/12","value":61.3},{"date":"2026/03/13","value":59.95},{"date":"2026/03/14","value":58.45},{"date":"2026/03/15","value":57.09},{"date":"2026/03/16","value":59.65},{"date":"2026/03/17","value":58.45},{"date":"2026/03/18","value":62.05},{"date":"2026/03/19","value":66.56},{"date":"2026/03/20","value":64.46},{"date":"2026/03/21","value":62.95},{"date":"2026/03/22","value":61},{"date":"2026/03/23","value":62.05},{"date":"2026/03/24","value":63.1},{"date":"2026/03/25","value":65.96},{"date":"2026/03/26","value":66.86},{"date":"2026/03/27","value":66.8},{"date":"2026/03/28","value":65.06},{"date":"2026/03/29","value":63.25},{"date":"2026/03/30","value":60.4},{"date":"2026/03/31","value":60.1},
      {"date":"2026/04/01","value":59.8},{"date":"2026/04/02","value":59.2},{"date":"2026/04/03","value":59.2},{"date":"2026/04/04","value":58.45},{"date":"2026/04/05","value":56.94},{"date":"2026/04/06","value":56.19},{"date":"2026/04/07","value":55.14},{"date":"2026/04/08","value":55.59},{"date":"2026/04/09","value":54.84},{"date":"2026/04/11","value":54.24},{"date":"2026/04/12","value":53.86},{"date":"2026/04/13","value":53.86},{"date":"2026/04/14","value":54.01},{"date":"2026/04/15","value":53.79},{"date":"2026/04/16","value":53.34},{"date":"2026/04/17","value":53.64},{"date":"2026/04/19","value":53.94},{"date":"2026/04/20","value":54.09},{"date":"2026/04/21","value":54.24},{"date":"2026/04/22","value":54.46},{"date":"2026/04/24","value":54.31},{"date":"2026/04/25","value":54.99},{"date":"2026/04/26","value":55.44},{"date":"2026/04/27","value":55.67},{"date":"2026/04/28","value":54.84},{"date":"2026/04/29","value":54.09},
      {"date":"2026/05/01","value":54.46},{"date":"2026/05/02","value":54.76},{"date":"2026/05/03","value":53.94},{"date":"2026/05/04","value":53.34},{"date":"2026/05/05","value":53.03},{"date":"2026/05/06","value":53.34},{"date":"2026/05/08","value":53.03},{"date":"2026/05/09","value":53.49},{"date":"2026/05/10","value":53.64},{"date":"2026/05/11","value":53.34},{"date":"2026/05/13","value":53.19},{"date":"2026/05/14","value":53.94},{"date":"2026/05/15","value":53.64},{"date":"2026/05/16","value":53.94},{"date":"2026/05/18","value":54.39},{"date":"2026/05/19","value":53.64},{"date":"2026/05/20","value":52.89},{"date":"2026/05/22","value":52.43},{"date":"2026/05/23","value":51.98},{"date":"2026/05/24","value":51.53},{"date":"2026/05/25","value":51.23},{"date":"2026/05/27","value":50.93},{"date":"2026/05/28","value":50.48},{"date":"2026/05/29","value":50.63},{"date":"2026/05/30","value":50.33},
      {"date":"2026/06/01","value":50.78},{"date":"2026/06/02","value":51.08},{"date":"2026/06/03","value":50.93},{"date":"2026/06/04","value":51.68},{"date":"2026/06/05","value":52.43},{"date":"2026/06/06","value":51.98},{"date":"2026/06/07","value":51.53},{"date":"2026/06/09","value":52.43},{"date":"2026/06/10","value":51.53},{"date":"2026/06/11","value":50.93},{"date":"2026/06/12","value":50.33},{"date":"2026/06/13","value":49.8},{"date":"2026/06/14","value":50.18},{"date":"2026/06/15","value":50.63},{"date":"2026/06/16","value":51.31},{"date":"2026/06/17","value":50.71},{"date":"2026/06/19","value":50.18},{"date":"2026/06/20","value":50.26},{"date":"2026/06/21","value":50.78},{"date":"2026/06/23","value":50.93},{"date":"2026/06/25","value":51.08},{"date":"2026/06/26","value":50.63},{"date":"2026/06/27","value":50.93},{"date":"2026/06/29","value":50.78},{"date":"2026/06/30","value":50.63},
      {"date":"2026/07/01","value":50.48},{"date":"2026/07/03","value":49.8},{"date":"2026/07/04","value":50.33},{"date":"2026/07/05","value":51.08},{"date":"2026/07/06","value":50.71},{"date":"2026/07/08","value":50.93},{"date":"2026/07/09","value":51.018}
    ],
    "markers": [
      {"date":"2024/07/31 12:00","value":370},{"date":"2024/10/08","value":331.5},{"date":"2024/12/14","value":297.3},{"date":"2025/02/20","value":305.9},{"date":"2025/04/29","value":409.25},{"date":"2025/07/05","value":319.4},{"date":"2025/09/10","value":309.4},{"date":"2025/11/17","value":346.3},{"date":"2026/01/24","value":292.6},{"date":"2026/04/01","value":373.75},{"date":"2026/06/08","value":310.8}
    ],
    "hyLast": [{"date": "2024/07/19 06:00", "value": 304.541, "label": "304.541"}],
    "igLast": [{"date": "2026/08/14 08:24", "value": 51.018, "label": "51.018"}]
  },
  "encoding": {
    "x": {
      "field": "date",
      "type": "temporal",
      "scale": {"domain": [{"year": 2024, "month": 7, "date": 19, "hours": 6}, {"year": 2026, "month": 8, "date": 14, "hours": 8, "minutes": 24}], "nice": false},
      "axis": {
        "title": null,
        "grid": true,
        "gridColor": "#2c2c2c",
        "tickCount": {"interval": "month", "step": 2},
        "labelExpr": "month(datum.value) == 0 ? timeFormat(datum.value, '%Y') : timeFormat(datum.value, '%b')",
        "labelFont": "Noto Sans",
        "labelFontSize": 16,
        "labelFontWeight": "bold",
        "labelColor": "#d4d4d4",
        "labelPadding": 23,
        "labelBaseline": "middle"
      }
    }
  },
  "layer": [
    {
      "data": {"name": "ig"},
      "encoding": {
        "y": {
          "field": "value",
          "type": "quantitative",
          "scale": {"domain": [42.44, 87.04], "nice": false, "zero": false},
          "axis": {
            "orient": "right",
            "values": [45, 47.5, 50, 52.5, 55, 57.5, 60, 62.5, 65, 67.5, 70, 72.5, 75, 77.5, 80, 82.5, 85],
            "format": ".3f",
            "labelExpr": "datum.value > 84 ? '' : datum.label",
            "grid": true,
            "gridColor": "#2c2c2c",
            "labelFont": "DejaVu Sans",
            "labelFontSize": 15,
            "labelColor": "#d0d0d0",
            "labelPadding": 14,
            "labelAlign": "left",
            "labelBaseline": "middle",
            "title": "USD  \u02c5",
            "titleAngle": 0,
            "titleX": 12,
            "titleY": 23,
            "titleAlign": "left",
            "titleBaseline": "middle",
            "titleFont": "DejaVu Sans",
            "titleFontSize": 15,
            "titleFontWeight": "normal",
            "titleColor": "#d0d0d0"
          }
        }
      },
      "layer": [
        {
          "mark": {
            "type": "area",
            "clip": true,
            "color": {
              "gradient": "linear",
              "x1": 0, "y1": 0, "x2": 0, "y2": 1,
              "stops": [
                {"offset": 0, "color": "rgba(241,100,15,0.58)"},
                {"offset": 0.35, "color": "rgba(241,100,15,0.48)"},
                {"offset": 0.6, "color": "rgba(241,100,15,0.33)"},
                {"offset": 0.78, "color": "rgba(241,100,15,0.2)"},
                {"offset": 0.9, "color": "rgba(241,100,15,0.12)"},
                {"offset": 1, "color": "rgba(241,100,15,0.05)"}
              ]
            }
          },
          "encoding": {"y2": {"datum": 42.44}}
        },
        {"mark": {"type": "line", "clip": true, "color": "#f26a0a", "strokeWidth": 2.7, "strokeJoin": "round"}},
        {
          "data": {"values": [{"date": "2025/10/24 19:00", "value": 75.73, "label": "CDX IG"}]},
          "mark": {"type": "text", "font": "Noto Sans", "fontSize": 19, "color": "#e8610a", "align": "center", "baseline": "middle"},
          "encoding": {"text": {"field": "label"}}
        },
        {
          "data": {"name": "igLast"},
          "mark": {"type": "point", "shape": "M0.03,-0.35H2V0.35H0.03Z", "size": 5184, "filled": true, "color": "#f0600a", "opacity": 1, "strokeWidth": 0}
        },
        {
          "data": {"name": "igLast"},
          "mark": {"type": "text", "dx": 40, "font": "DejaVu Sans", "fontSize": 15, "color": "#ffffff", "align": "center", "baseline": "middle"},
          "encoding": {"text": {"field": "label"}}
        }
      ]
    },
    {
      "data": {"name": "hy"},
      "encoding": {
        "y": {
          "field": "value",
          "type": "quantitative",
          "scale": {"domain": [268.4, 515.4], "nice": false, "zero": false},
          "axis": {
            "orient": "left",
            "values": [280, 300, 320, 340, 360, 380, 400, 420, 440, 460, 480, 500],
            "format": ".3f",
            "grid": false,
            "labelFont": "Noto Sans",
            "labelFontSize": 17,
            "labelColor": "#d0d0d0",
            "labelPadding": 12,
            "labelBaseline": "middle",
            "title": "USD  \u02c5",
            "titleAngle": 0,
            "titleX": -78,
            "titleY": 23,
            "titleAlign": "left",
            "titleBaseline": "middle",
            "titleFont": "Noto Sans",
            "titleFontSize": 17,
            "titleFontWeight": "normal",
            "titleColor": "#d8d8d8"
          }
        }
      },
      "layer": [
        {"mark": {"type": "line", "clip": true, "color": "#8a5cd4", "strokeWidth": 5.5, "strokeJoin": "round", "strokeCap": "round"}},
        {
          "data": {"name": "markers"},
          "mark": {"type": "point", "filled": true, "color": "#101010", "size": 190, "opacity": 1, "strokeWidth": 0}
        },
        {
          "data": {"name": "markers"},
          "mark": {"type": "point", "filled": true, "color": "#161616", "stroke": "#2f6ce2", "strokeWidth": 2.6, "size": 85, "opacity": 1}
        },
        {
          "data": {"values": [{"date": "2024/12/15 07:00", "value": 465.65, "label": "CDX HY"}]},
          "mark": {"type": "text", "font": "Noto Sans", "fontSize": 19, "color": "#ab52c2", "align": "center", "baseline": "middle"},
          "encoding": {"text": {"field": "label"}}
        },
        {
          "data": {"name": "hyLast"},
          "mark": {"type": "point", "shape": "M-2,-0.3253H-0.048V0.3253H-2Z", "size": 6889, "filled": true, "color": "#8259cc", "opacity": 1, "strokeWidth": 0}
        },
        {
          "data": {"name": "hyLast"},
          "mark": {"type": "text", "dx": -44, "font": "Noto Sans", "fontSize": 17, "color": "#ffffff", "align": "center", "baseline": "middle"},
          "encoding": {"text": {"field": "label"}}
        }
      ]
    }
  ],
  "resolve": {"scale": {"y": "independent"}}
}
